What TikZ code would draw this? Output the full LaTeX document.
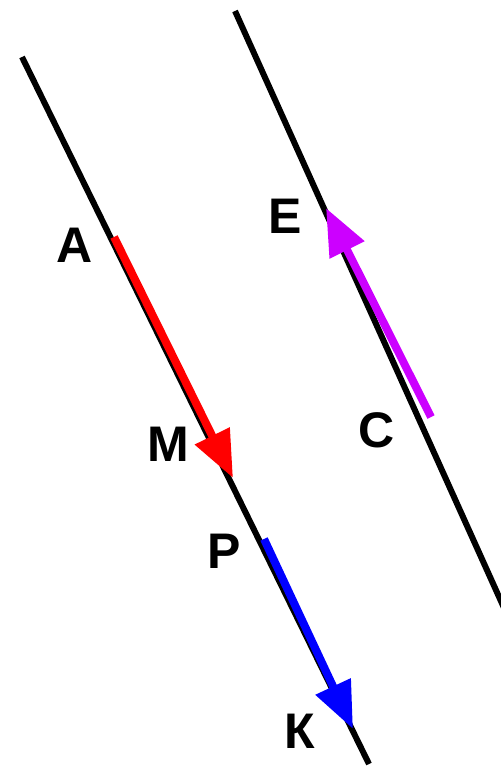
\documentclass[tikz,border=0pt]{standalone}
\usepackage{fontspec}
\setmainfont{Liberation Sans}
\usepackage{xcolor}
\usetikzlibrary{arrows.meta}
\definecolor{vecpurple}{RGB}{204,0,255}

\begin{document}
\begin{tikzpicture}[x=1pt,y=-1pt,
    lineblk/.style={line width=6pt,black},
    vec/.style={line width=8pt,-{Triangle[length=47pt,width=37pt]}},
    lbl/.style={font=\fontsize{50}{50}\selectfont\bfseries,inner sep=0pt}]
  \useasboundingbox (0,0) rectangle (500,767);
  % the two parallel lines
  \coordinate (l1a) at (22,57);
  \coordinate (l1b) at (369,764);
  \coordinate (l2a) at (235,11);
  \coordinate (l2b) at (509,619);
  \draw[lineblk] (l1a) -- (l1b);
  \draw[lineblk] (l2a) -- (l2b);
  % vectors
  \coordinate (ptA) at (114,237);
  \coordinate (ptM) at (233,478);
  \coordinate (ptP) at (264,539);
  \coordinate (ptK) at (353,729);
  \coordinate (ptC) at (431,417);
  \coordinate (ptE) at (326,208);
  \draw[vec,red] (ptA) -- (ptM);
  \draw[vec,blue] (ptP) -- (ptK);
  \draw[vec,vecpurple] (ptC) -- (ptE);
  % labels
  \node[lbl] (labA) at (75,245) {А};
  \node[lbl] (labM) at (168,444) {М};
  \node[lbl] (labP) at (224,551) {Р};
  \node[lbl] (labK) at (300,731) {К};
  \node[lbl] (labE) at (285,216) {Е};
  \node[lbl] (labC) at (377,430) {С};
\end{tikzpicture}
\end{document}
